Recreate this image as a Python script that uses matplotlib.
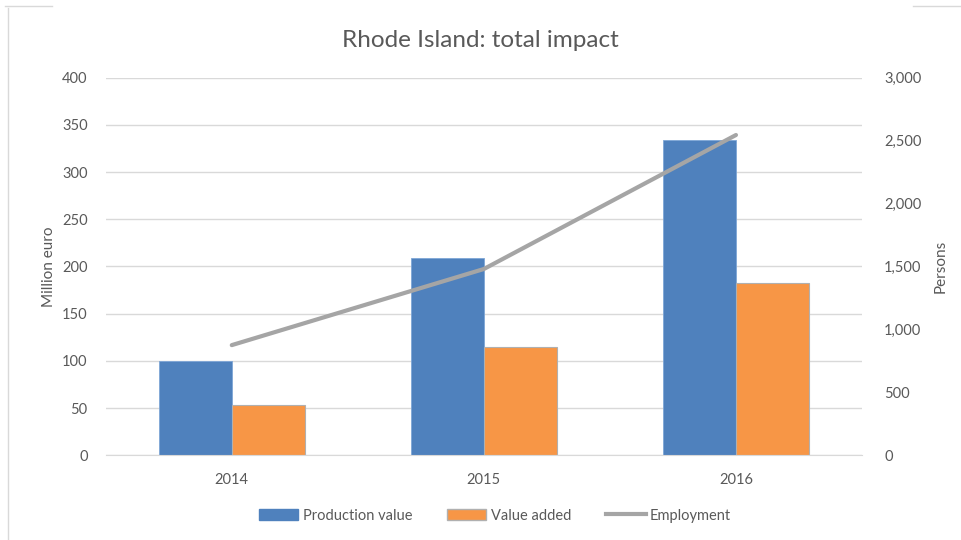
import numpy as np
import matplotlib
matplotlib.use("Agg")
import matplotlib.pyplot as plt
from matplotlib.lines import Line2D
from matplotlib.ticker import FuncFormatter, MultipleLocator

years = ["2014", "2015", "2016"]
production_value = [100, 209, 334]   # million euro
value_added = [53, 115, 183]         # million euro
employment = [875, 1480, 2545]       # persons

blue = "#4f81bd"
orange = "#f79646"
grey = "#a5a5a5"
txt = "#595959"
grid = "#d9d9d9"

plt.rcParams["font.family"] = ["Lato", "DejaVu Sans"]

fig = plt.figure(figsize=(9.61, 5.40), dpi=100)
ax = fig.add_axes([0.110, 0.157, 0.787, 0.699])
ax2 = ax.twinx()

x = np.arange(len(years))
w = 0.29
ax.bar(x - w / 2, production_value, w, color=blue, edgecolor="#7ea6d6",
       linewidth=0.6, label="Production value", zorder=2)
ax.bar(x + w / 2, value_added, w, color=orange, edgecolor="#b0b0b0",
       linewidth=0.8, label="Value added", zorder=2)
ax2.plot(x, employment, color=grey, linewidth=3, solid_capstyle="round",
         label="Employment", zorder=3)

ax.set_xlim(-0.5, 2.5)
ax.set_ylim(0, 400)
ax2.set_ylim(0, 3000)
ax.yaxis.set_major_locator(MultipleLocator(50))
ax2.yaxis.set_major_locator(MultipleLocator(500))
ax2.yaxis.set_major_formatter(FuncFormatter(lambda v, p: f"{int(v):,}"))

ax.set_xticks(x)
ax.set_xticklabels(years)
ax.yaxis.grid(True, color=grid, linewidth=1, zorder=0)
ax.set_axisbelow(True)

for a in (ax, ax2):
    for s in a.spines.values():
        s.set_visible(False)
    a.tick_params(length=0, colors=txt, labelsize=10.5)
ax.spines["bottom"].set_visible(True)
ax.spines["bottom"].set_color(grid)
ax.tick_params(axis="y", pad=13)
ax2.tick_params(axis="y", pad=16)
ax.tick_params(axis="x", pad=13)

ax.set_ylabel("Million euro", color=txt, fontsize=11, labelpad=4)
ax2.set_ylabel("Persons", color=txt, fontsize=11, labelpad=9)

fig.text(0.5, 0.925, "Rhode Island: total impact", ha="center", va="center",
         color=txt, fontsize=17.5)

handles = [
    plt.Rectangle((0, 0), 1, 1, color=blue),
    plt.Rectangle((0, 0), 1, 1, facecolor=orange, edgecolor="#b0b0b0"),
    Line2D([0], [0], color=grey, linewidth=3),
]
fig.legend(handles, ["Production value", "Value added", "Employment"],
           loc="center", bbox_to_anchor=(0.515, 0.045), ncol=3, frameon=False,
           fontsize=10.5, labelcolor=txt, handlelength=2.7, handleheight=0.8,
           columnspacing=2.4, handletextpad=0.3)

# partial chart frame
frame = "#d9d9d9"
fig.add_artist(Line2D([0.008, 0.008], [0.0, 0.985], color=frame, lw=1,
                      transform=fig.transFigure))
fig.add_artist(Line2D([0.005, 0.054], [0.988, 0.988], color=frame, lw=1,
                      transform=fig.transFigure))
fig.add_artist(Line2D([0.95, 1.0], [0.988, 0.988], color=frame, lw=1,
                      transform=fig.transFigure))

fig.savefig("out.png", dpi=100)
